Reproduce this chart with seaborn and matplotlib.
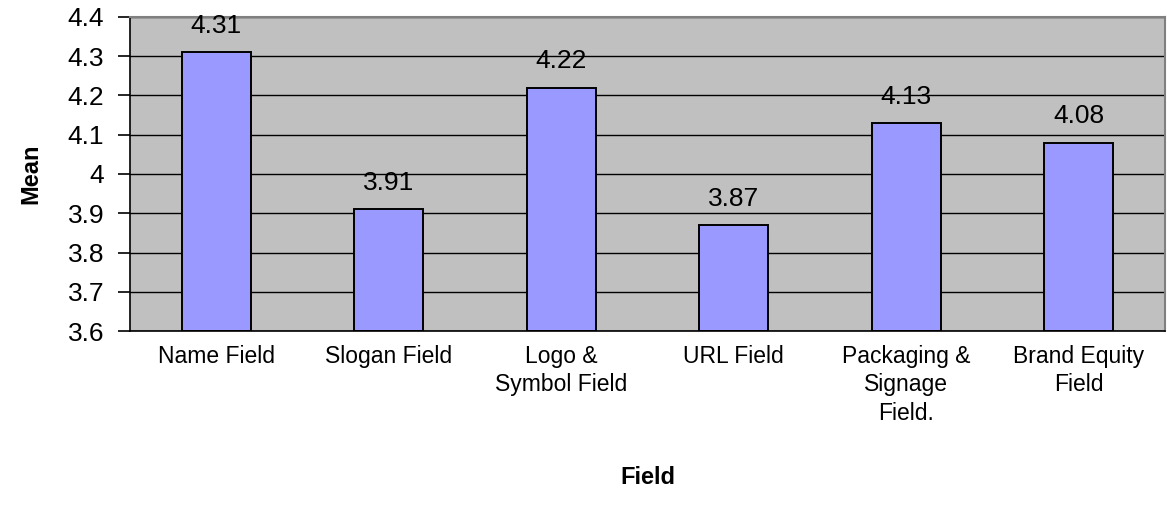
import numpy as np
import pandas as pd
import matplotlib
matplotlib.use("Agg")
import matplotlib.pyplot as plt
import seaborn as sns

# values
fields = ["Name Field", "Slogan Field", "Logo &\nSymbol Field", "URL Field",
          "Packaging &\nSignage\nField.", "Brand Equity\nField"]
means = [4.31, 3.91, 4.22, 3.87, 4.13, 4.08]
y_ticks = [3.6, 3.7, 3.8, 3.9, 4.0, 4.1, 4.2, 4.3, 4.4]
y_tick_labels = ["3.6", "3.7", "3.8", "3.9", "4", "4.1", "4.2", "4.3", "4.4"]

df = pd.DataFrame({"Field": fields, "Mean": means})

sns.set_style("white")
plt.rcParams["font.family"] = ["Liberation Sans", "DejaVu Sans"]
plt.rcParams["text.color"] = "black"
plt.rcParams["axes.labelcolor"] = "black"
plt.rcParams["xtick.color"] = "black"
plt.rcParams["ytick.color"] = "black"

fig = plt.figure(figsize=(11.67, 5.14), dpi=100)
ax = fig.add_axes([0.1114, 0.356, 0.887, 0.611])
ax.set_facecolor("#C0C0C0")

# horizontal grid lines behind bars
for y in y_ticks:
    ax.axhline(y, color="black", linewidth=1.0, zorder=1)

sns.barplot(data=df, x="Field", y="Mean", color="#9999FF", width=0.4,
            edgecolor="black", linewidth=1.4, saturation=1, ax=ax, zorder=2)

# bar bottoms start at axis minimum
for patch, m in zip(ax.patches, means):
    patch.set_y(3.6)
    patch.set_height(m - 3.6)

ax.set_ylim(3.6, 4.4)
ax.set_xlim(-0.5, len(fields) - 0.5)
ax.set_yticks(y_ticks)
ax.set_yticklabels(y_tick_labels, fontsize=19)

ax.set_xticks(range(len(fields)))
ax.set_xticklabels(fields, fontsize=16.5, linespacing=1.3)
ax.tick_params(axis="x", which="major", length=0, pad=10)
ax.set_xticks(np.arange(-0.5, len(fields), 1.0), minor=True)
ax.tick_params(axis="x", which="minor", length=6, width=1.2, direction="out", color="black")
ax.tick_params(axis="y", which="major", length=8.6, width=1.2, direction="out", color="black", pad=10, left=True)

for i, m in enumerate(means):
    ax.annotate(f"{m:.2f}", (i, m), xytext=(0, 19), textcoords="offset points",
                ha="center", va="center", fontsize=19)

ax.set_xlabel("Field", fontsize=17, fontweight="bold", labelpad=30)
ax.set_ylabel("Mean", fontsize=17, fontweight="bold", labelpad=18)

for side in ["left", "bottom"]:
    ax.spines[side].set_color("black")
    ax.spines[side].set_linewidth(1.2)
for side in ["top", "right"]:
    ax.spines[side].set_color("#808080")
    ax.spines[side].set_linewidth(1.5)

fig.savefig("out.png", dpi=100)
